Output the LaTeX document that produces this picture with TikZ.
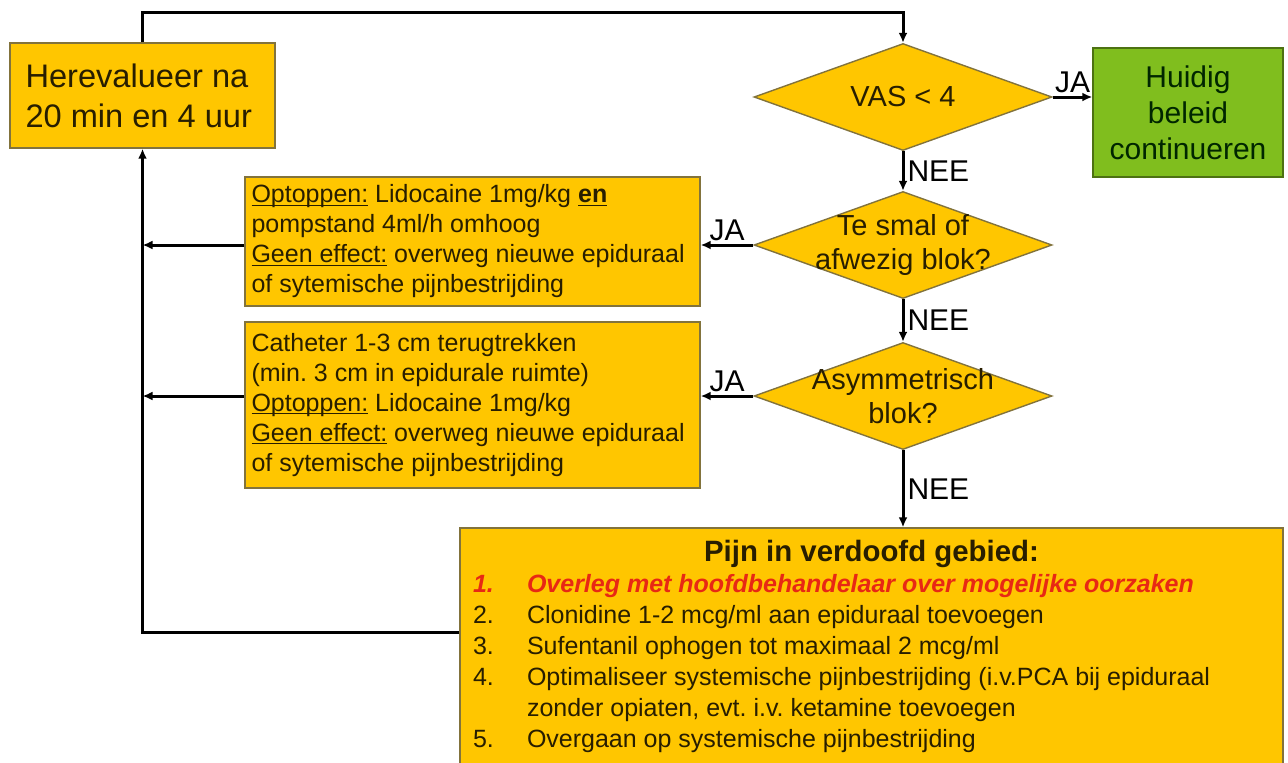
\documentclass[tikz,border=0pt]{standalone}
\usepackage{fontspec}
\setmainfont{Liberation Sans}
\usetikzlibrary{shapes.geometric, arrows.meta}
\definecolor{goud}{RGB}{255,198,0}
\definecolor{groen}{RGB}{128,190,30}
\definecolor{rand}{RGB}{130,115,60}
\definecolor{rood}{RGB}{232,40,20}
\definecolor{tekst}{RGB}{40,30,0}
\frenchspacing
\newcommand\onder[1]{\leavevmode\setbox0\hbox{#1}\rlap{\rule[-1.4pt]{\wd0}{0.6pt}}\box0\relax}

\begin{document}
\begin{tikzpicture}[x=0.5pt, y=-0.5pt,
  vak/.style={draw=rand, fill=goud, line width=0.7pt, text=tekst},
  ruit/.style={vak, diamond, inner sep=0pt, minimum width=149pt, minimum height=53.5pt},
  ruittekst/.style={align=center, text=tekst, font=\fontsize{14.5}{17}\selectfont},
  pijl/.style={line width=1.5pt, -{Latex[length=5pt,width=4.5pt]}},
  keuze/.style={font=\fontsize{15}{15}\selectfont, inner sep=1.5pt}]
  \useasboundingbox (0,0) rectangle (1288,762);

  % herevalueren
  \node[vak, minimum width=132.5pt, minimum height=52.5pt, text width=117pt, align=flush left,
        font=\fontsize{16.3}{20}\selectfont] (herev) at (142.5,95.5) {Herevalueer na\\20 min en 4 uur};

  % vragen
  \node[ruit, label={[ruittekst]center:VAS < 4}] (vas) at (903,97) {};
  \node[ruit, label={[ruittekst]center:Te smal of\\afwezig blok?}] (smal) at (903,245) {};
  \node[ruit, label={[ruittekst]center:Asymmetrisch\\blok?}] (asym) at (903,396) {};

  % huidig beleid
  \node[vak, fill=groen, draw=groen!60!black, minimum width=95pt, minimum height=64.5pt, align=center,
        text=black!85!green, font=\fontsize{15}{18}\selectfont] (huidig) at (1188,112.5) {Huidig\\beleid\\continueren};

  % optoppen
  \node[vak, minimum width=227.5pt, minimum height=64.5pt, text width=221pt, inner xsep=3pt, align=flush left,
        font=\fontsize{12.5}{15}\selectfont] (optop) at (472.5,241.5)
    {\onder{Optoppen:} Lidocaine 1mg/kg \onder{\textbf{en}}\\pompstand 4ml/h omhoog\\
     \onder{Geen effect:} overweg nieuwe epiduraal\\of sytemische pijnbestrijding};

  % catheter terugtrekken
  \node[vak, minimum width=227.5pt, minimum height=83pt, text width=221pt, inner xsep=3pt, align=flush left,
        font=\fontsize{12.5}{15}\selectfont] (catheter) at (472.5,405)
    {Catheter 1-3 cm terugtrekken\\(min. 3 cm in epidurale ruimte)\\
     \onder{Optoppen:} Lidocaine 1mg/kg\\
     \onder{Geen effect:} overweg nieuwe epiduraal\\of sytemische pijnbestrijding};

  % pijn in verdoofd gebied
  \node[vak, minimum width=411.5pt, minimum height=118pt, text width=398.5pt, inner xsep=6.5pt, align=flush left,
        font=\fontsize{12.5}{15.5}\selectfont] (pijn) at (871.5,646)
    {\makebox[398.5pt]{\fontsize{14.7}{17}\selectfont\bfseries Pijn in verdoofd gebied:}\\
     {\color{rood}\bfseries\itshape\makebox[27pt][l]{1.}Overleg met hoofdbehandelaar over mogelijke oorzaken}\\
     \makebox[27pt][l]{2.}Clonidine 1-2 mcg/ml aan epiduraal toevoegen\\
     \makebox[27pt][l]{3.}Sufentanil ophogen tot maximaal 2 mcg/ml\\
     \makebox[27pt][l]{4.}Optimaliseer systemische pijnbestrijding (i.v.PCA bij epiduraal\\
     \makebox[27pt][l]{}zonder opiaten, evt. i.v. ketamine toevoegen\\
     \makebox[27pt][l]{5.}Overgaan op systemische pijnbestrijding};

  % hulppunten
  \coordinate (boven) at (0,12);
  \coordinate (terug) at (0,632);

  % pijlen
  \draw[pijl] (herev.north) -- (herev.north |- boven) -| (vas.north);
  \draw[pijl] (vas.east) -- node[keuze, above] {JA} (vas.east -| huidig.west);
  \draw[pijl] (vas.south) -- node[keuze, right] {NEE} (smal.north);
  \draw[pijl] (smal.west) -- node[keuze, above] {JA} (smal.west -| optop.east);
  \draw[pijl] (smal.south) -- node[keuze, right] {NEE} (asym.north);
  \draw[pijl] (asym.west) -- node[keuze, above] {JA} (asym.west -| catheter.east);
  \draw[pijl] (asym.south) -- node[keuze, right] {NEE} (asym.south |- pijn.north);
  \draw[pijl] (optop.west |- smal.west) -- (smal.west -| herev.south);
  \draw[pijl] (catheter.west |- asym.west) -- (asym.west -| herev.south);
  \draw[pijl] (pijn.west |- terug) -| (herev.south);
\end{tikzpicture}
\end{document}
